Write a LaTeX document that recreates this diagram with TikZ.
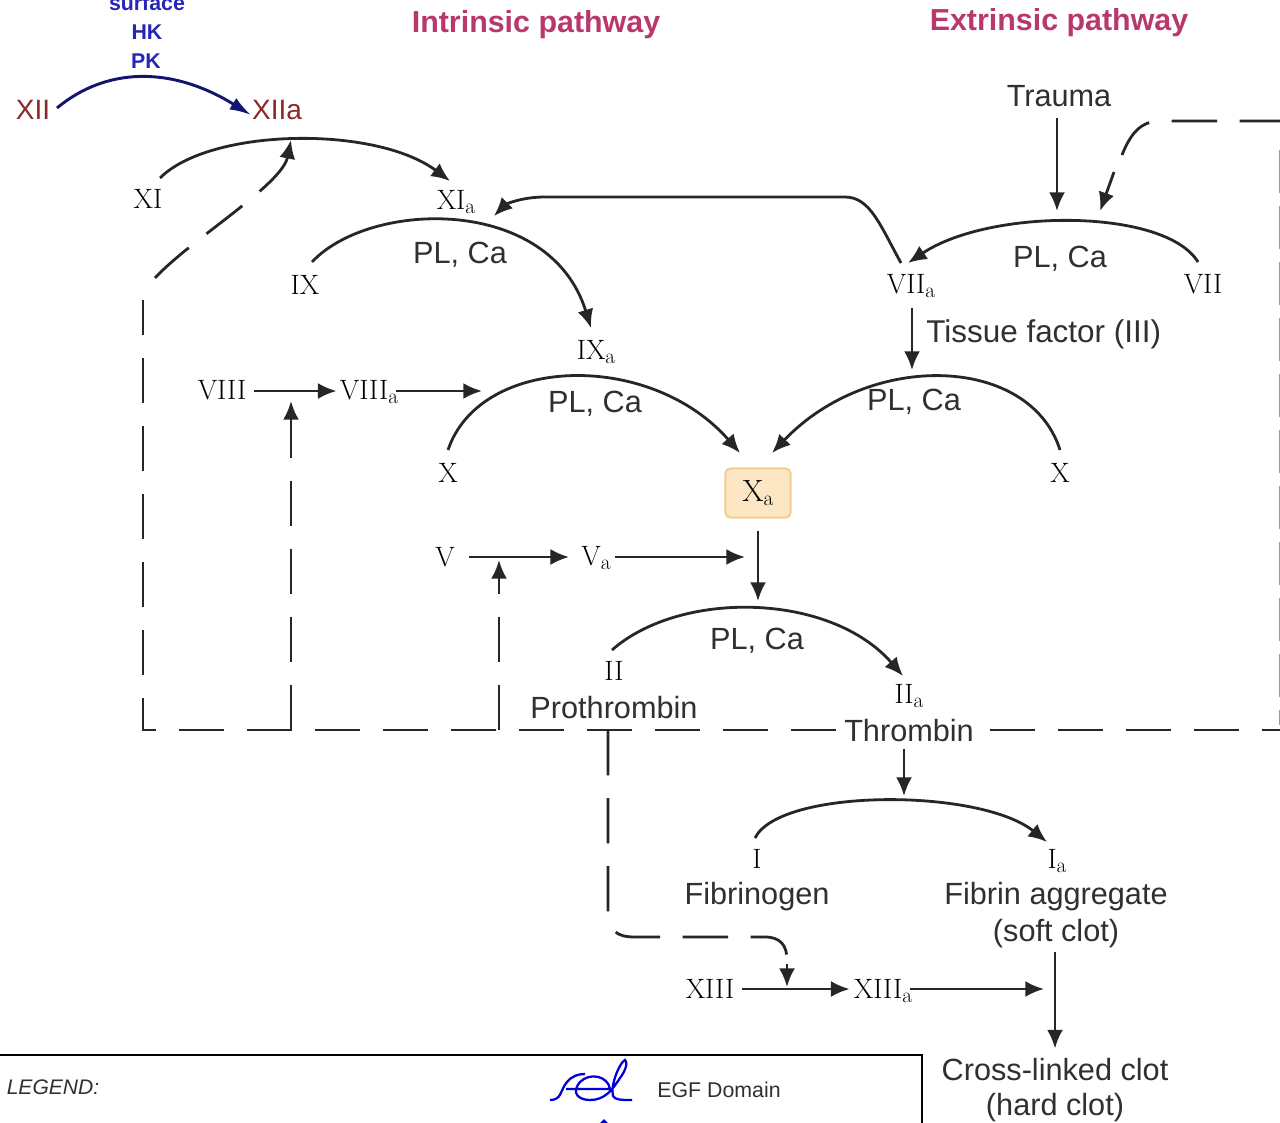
\documentclass[tikz,border=0pt]{standalone}
\usepackage{fontspec}
\setsansfont{Liberation Sans}
\usetikzlibrary{arrows.meta}
\definecolor{ink}{HTML}{303030}
\definecolor{deepred}{HTML}{8A2A2A}
\definecolor{blueink}{HTML}{2626B8}
\definecolor{navyline}{HTML}{14146E}
\definecolor{titlepink}{HTML}{B8386E}
\definecolor{boxfill}{HTML}{FCE6C3}
\definecolor{boxedge}{HTML}{F2CE8C}
\newcommand{\subA}{\raisebox{-0.32ex}{\fontsize{16}{16}\selectfont a}}
\tikzset{
  sanslab/.style={inner sep=0pt,text=ink,font=\fontsize{23}{27}\selectfont\sffamily},
  romanlab/.style={inner sep=0pt,text=black,font=\fontsize{21}{25}\selectfont},
  bluelab/.style={inner sep=0pt,text=blueink,font=\fontsize{16}{19}\selectfont\sffamily\bfseries},
  redlab/.style={inner sep=0pt,text=deepred,font=\fontsize{21}{25}\selectfont\sffamily},
  titlelab/.style={inner sep=0pt,text=titlepink,font=\fontsize{22.8}{27}\selectfont\sffamily\bfseries},
  conn/.style={draw=ink!80!black,line width=2.1pt},
  tipped/.style={conn,-{Latex[length=14pt,width=12pt]}},
  dashconn/.style={conn,dash pattern=on 34pt off 17pt},
  dashtip/.style={dashconn,-{Latex[length=14pt,width=12pt]}},
}
\begin{document}
\begin{tikzpicture}[x=0.75pt,y=-0.75pt]
\path[use as bounding box,clip] (0,0) rectangle (1280,1123);
\fill[white] (0,0) rectangle (1280,1123);

% titles
\node[titlelab] (tI) at (536,25) {Intrinsic pathway};
\node[titlelab] (tE) at (1059,23) {Extrinsic pathway};

% contact activation
\node[bluelab] (surf) at (147,3) {surface};
\node[bluelab] (hk) at (147,32) {HK};
\node[bluelab] (pk) at (146,61) {PK};
\node[redlab] (XII) at (33,110) {XII};
\node[redlab] (XIIa) at (277,110) {XIIa};

% factors
\node[romanlab] (XI) at (148,199) {XI};
\node[romanlab] (XIa) at (456,202) {XI\subA};
\node[romanlab] (IX) at (305,285) {IX};
\node[romanlab] (IXa) at (596,352) {IX\subA};
\node[romanlab] (VIII) at (222,390) {VIII};
\node[romanlab] (VIIIa) at (369,392) {VIII\subA};
\node[romanlab] (Xl) at (448,473) {X};
\node[romanlab] (Xr) at (1060,473) {X};
\node[romanlab] (VIIa) at (911,286) {VII\subA};
\node[romanlab] (VII) at (1203,284) {VII};
\node[sanslab] (Trauma) at (1059,96) {Trauma};
\node[sanslab,anchor=west,font=\fontsize{23.6}{27}\selectfont\sffamily] (TF) at (926,334) {Tissue factor (III)};
\node[sanslab] (pc1) at (460,255) {PL, Ca};
\node[sanslab] (pc2) at (595,404) {PL, Ca};
\node[sanslab] (pc3) at (914,402) {PL, Ca};
\node[sanslab] (pc4) at (1060,259) {PL, Ca};
\node[sanslab] (pc5) at (757,641) {PL, Ca};
\node[draw=boxedge,fill=boxfill,line width=1.5pt,rounded corners=4pt,minimum width=49pt,minimum height=37pt,inner sep=0pt,text=black,font=\fontsize{23}{27}\selectfont] (Xa) at (758,493) {X\subA};
\node[romanlab] (V) at (445,557) {V};
\node[romanlab] (Va) at (596,558) {V\subA};
\node[romanlab] (II) at (614,671) {II};
\node[sanslab] (Proth) at (614,708) {Prothrombin};
\node[romanlab] (IIa) at (909,696) {II\subA};
\node[sanslab] (Thrombin) at (909,731) {Thrombin};
\node[romanlab] (I) at (757,859) {I};
\node[sanslab] (Fibgen) at (757,897) {Fibrinogen};
\node[romanlab] (Ia) at (1057,861) {I\subA};
\node[sanslab] (Fibagg) at (1056,897) {Fibrin aggregate};
\node[sanslab] (soft) at (1056,934) {(soft clot)};
\node[romanlab] (XIII) at (710,989) {XIII};
\node[romanlab] (XIIIa) at (883,991) {XIII\subA};
\node[sanslab] (Cross) at (1055,1070) {Cross-linked clot};
\node[sanslab] (hard) at (1055,1108) {(hard clot)};

% free ends
\coordinate (cornerBL) at (143,730);
\coordinate (edgeB) at (1285,730);
\coordinate (edgeT) at (1285,121);
\coordinate (j1) at (291,730);
\coordinate (j2) at (499,730);
\coordinate (j3) at (608,730);
\coordinate (hitXI) at (291,140);
\coordinate (hitVIII) at (291,401);
\coordinate (hitV) at (499,560);
\coordinate (hitXIII) at (787,987);
\coordinate (hitVII) at (1100,211);
\coordinate (arcTopVII) at (1057,211);
\coordinate (endVIIIa) at (482,391);
\coordinate (endVa) at (745,557);
\coordinate (endXa) at (758,601);
\coordinate (endTh) at (904,796);
\coordinate (endTF) at (912,370);
\coordinate (endXIIIa) at (1044,989);
\coordinate (midVIII) at (291,391);
\coordinate (startTF) at (912,308);
\coordinate (startTr) at (1057,118);
\coordinate (startCl) at (1055,952);

% contact activation arc
\draw[navyline,line width=2.2pt,-{Latex[length=16pt,width=10pt]}] ([shift={(24,-2)}]XII.center) .. controls (105,68) and (170,65) .. ([shift={(-26,5)}]XIIa.center);

% activation arcs
\draw[tipped] ([shift={(12,-21)}]XI.center) .. controls (210,128) and (375,125) .. ([shift={(-6,-21)}]XIa.center);
\draw[tipped] ([shift={(7,-23)}]IX.center) .. controls (370,200) and (550,195) .. ([shift={(-5,-24)}]IXa.center);
\draw[tipped] ([shift={(0,-23)}]Xl.center) .. controls (480,355) and (650,350) .. ([shift={(-18,-40)}]Xa.center);
\draw[tipped] ([shift={(0,-23)}]Xr.center) .. controls (1030,355) and (870,350) .. ([shift={(14,-40)}]Xa.center);
\draw[tipped] ([shift={(-5,-22)}]VII.center) .. controls (1165,208) and (990,208) .. ([shift={(-3,-23)}]VIIa.center);
\draw[tipped] ([shift={(-2,-21)}]II.center) .. controls (680,590) and (830,592) .. ([shift={(-6,-20)}]IIa.center);
\draw[tipped] ([shift={(-2,-21)}]I.center) .. controls (780,788) and (980,788) .. ([shift={(-10,-19)}]Ia.center);

% straight arrows
\draw[tipped] (startTr) -- (arcTopVII);
\draw[tipped] ([xshift=8*0.75pt]VIII.east |- midVIII) -- ([xshift=-3*0.75pt]VIIIa.west |- midVIII);
\draw[tipped] ([shift={(-2,-1)}]VIIIa.east) -- (endVIIIa);
\draw[tipped] ([shift={(14,0)}]V.east) -- ([shift={(-12,-1)}]Va.west);
\draw[tipped] ([shift={(4,-1)}]Va.east) -- (endVa);
\draw[tipped] ([yshift=-12*0.75pt]Xa.south) -- (endXa);
\draw[tipped] (startTF) -- (endTF);
\draw[tipped] ([shift={(-5,6)}]Thrombin.south) -- (endTh);
\draw[tipped] ([shift={(8,0)}]XIII.east) -- ([shift={(-4,-2)}]XIIIa.west);
\draw[tipped] ([shift={(-2,-2)}]XIIIa.east) -- (endXIIIa);
\draw[tipped] (startCl) -- ([yshift=10*0.75pt]Cross.north);

% curved VIIa feedback to XIa
\draw[tipped] ([shift={(-10,-23)}]VIIa.center) .. controls (880,225) and (870,197) .. (845,197) -- (545,197) .. controls (520,197) and (505,205) .. ([shift={(38,14)}]XIa.center);

% dashed feedback
\draw[dashconn] ([xshift=-8*0.75pt]Thrombin.west |- cornerBL) -- (cornerBL) -- (143,300);
\draw[dashconn] ([xshift=16*0.75pt]Thrombin.east |- edgeB) -- (edgeB);
\draw[dashtip] (155,278) .. controls (190,240) and (282,185) .. (hitXI);
\draw[dashtip] (j1) -- (hitVIII);
\draw[dashtip] (j2) -- (hitV);
\draw[dashconn] (j3) -- (608,912) .. controls (610,930) and (615,937) .. (635,937) -- (765,937) .. controls (780,937) and (787,945) .. (787,960);
\draw[tipped] (787,964) -- (hitXIII);
\draw[dashconn] (edgeT) -- (1160,121) .. controls (1140,121) and (1130,135) .. (1122,155);
\draw[tipped] (1114,172) -- (hitVII);
\draw[draw=black!40,line width=1.4pt,dash pattern=on 32pt off 10pt] (1279.5,150) -- (1279.5,725);

% legend
\draw[draw=black,line width=1.6pt] (0,1055) -- (922,1055) -- (922,1123);
\node[inner sep=0pt,text=ink,font=\fontsize{15.8}{18}\selectfont\sffamily\itshape] (Leg) at (53,1087) {LEGEND:};
\node[inner sep=0pt,text=ink,font=\fontsize{16}{19}\selectfont\sffamily] (EGF) at (719,1090) {EGF Domain};
\draw[blue!85!black,line width=1.7pt] (550,1100) .. controls (562,1100) and (560,1090) .. (567,1082) .. controls (572,1076) and (578,1074) .. (585,1074) (566,1089) -- (610,1089) .. controls (608,1076) and (590,1072) .. (580,1082) .. controls (570,1094) and (580,1100) .. (590,1100) .. controls (605,1100) and (612,1090) .. (620,1078) .. controls (626,1070) and (628,1062) .. (625,1060) .. controls (620,1062) and (610,1085) .. (613,1096) .. controls (615,1100) and (622,1100) .. (632,1100);
\fill[blue!85!black] (600,1123) -- (604,1119) -- (608,1123) -- cycle;
\end{tikzpicture}
\end{document}
